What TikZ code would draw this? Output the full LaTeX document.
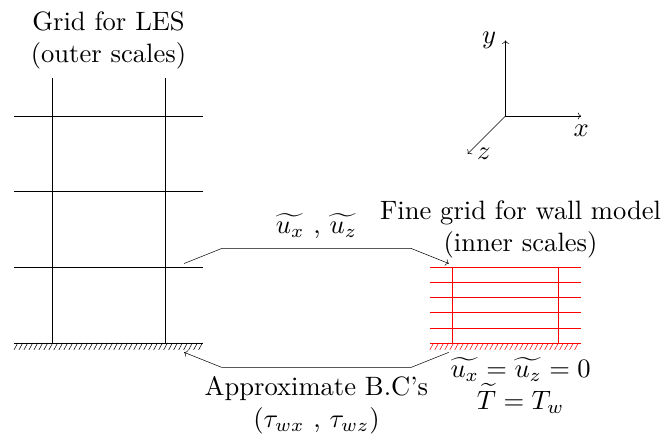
\documentclass[tikz,border=0pt]{standalone}
\usepackage{amsmath,amssymb}
\usepackage{tikz}
\usetikzlibrary{positioning,arrows.meta}

\tikzset{
	lbl/.style={align=center},
	finegrid/.style={draw=red},
}

\begin{document}
\begin{tikzpicture}[scale=2, transform shape]
						\useasboundingbox (-0.185,-1.245) rectangle (8.57,4.535);
						
						\foreach \y in {1,2,3}
							\draw (0,\y) -- (2.5,\y);
						\foreach \x in {0.5,2}
							\draw (\x,0) -- (\x,3.5);
						\draw (0,0) -- (2.5,0);
						\foreach \x in {0,0.066,...,2.45}
							\draw (\x,-0.092) -- (\x+0.05,0);
						
						\foreach \y in {0,0.2,...,1.0}
							\draw[finegrid] (5.5,\y) -- (7.5,\y);
						\foreach \x in {5.8,7.2}
							\draw[finegrid] (\x,0) -- (\x,1);
						\foreach \x in {5.5,5.566,...,7.45}
							\draw[red] (\x,-0.092) -- (\x+0.05,0);
						
						\node[lbl, anchor=south] (les) at (1.25,3.5) {Grid for LES\\(outer scales)};
						\node[lbl, anchor=south] (wm) at (6.7,1) {Fine grid for wall model\\(inner scales)};
						\node[lbl, anchor=north] (wallbc) at (6.7,-0.07) {$\widetilde{u_x}=\widetilde{u_z}=0$\\$\widetilde{T}=T_w$};
						
						\coordinate (velout) at (2.25,1.05);
						\coordinate (velin)  at (5.75,1.05);
						\coordinate (bcout)  at (5.75,-0.125);
						\coordinate (bcin)   at (2.25,-0.125);
						
						\draw[->] (velout) -- ++(0.5,0.2)
							-- node[above] (vel) {$\widetilde{u_x}$ , $\widetilde{u_z}$} ++(2.5,0) -- (velin);
						\draw[->] (bcout) -- ++(-0.5,-0.2)
							-- node[below, lbl] (bc) {Approximate B.C's\\$(\tau_{wx}$ , $\tau_{wz})$} ++(-2.5,0) -- (bcin);
						
						\coordinate (orig) at (6.5,3);
						\node[left]  (ylab) at (6.5,4)  {$y$};
						\node[below] (xlab) at (7.5,3)  {$x$};
						\node[right] (zlab) at (6,2.5)  {$z$};
						\draw[->] (orig) -- (ylab.east);
						\draw[->] (orig) -- (xlab.north);
						\draw[->] (orig) -- (zlab.west);
\end{tikzpicture}
\end{document}
